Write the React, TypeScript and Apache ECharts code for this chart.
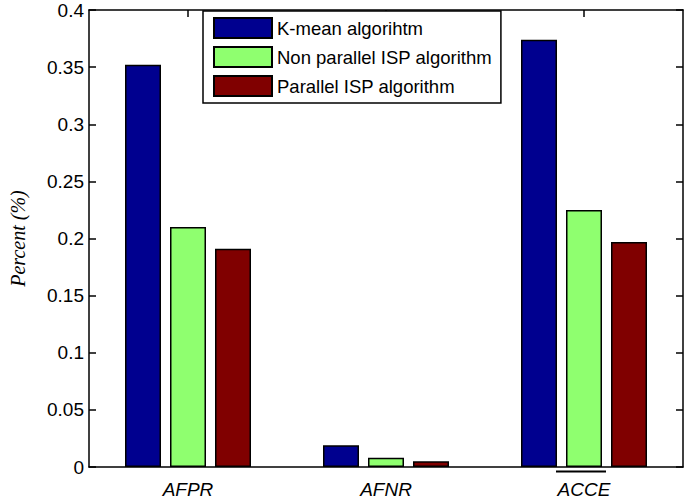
import React, { useEffect, useRef } from "react";
import * as echarts from "echarts";

const categories = ["AFPR", "AFNR", "ACCE"];
const seriesNames = ["K-mean algorihtm", "Non parallel ISP algorithm", "Parallel ISP algorithm"];
const kmean = [0.352, 0.019, 0.374];
const nonParallel = [0.21, 0.008, 0.225];
const parallel = [0.191, 0.005, 0.197];
const colors = ["#00008F", "#8FFF6F", "#800000"];
const yTicks = [0, 0.05, 0.1, 0.15, 0.2, 0.25, 0.3, 0.35, 0.4];

export default function App() {
  const ref = useRef<HTMLDivElement>(null);
  useEffect(() => {
    if (!ref.current) return;
    const chart = echarts.init(ref.current, null, { renderer: "svg" });
    const font = "Liberation Sans, Arial, sans-serif";
    const axisLine = { show: true, onZero: false, lineStyle: { color: "#000", width: 1.5 } };
    const tick = { show: true, inside: true, length: 7, lineStyle: { color: "#000", width: 1.5 } };
    const values = [kmean, nonParallel, parallel];
    chart.setOption({
      animation: false,
      backgroundColor: "#fff",
      grid: { left: 76, top: 10, width: 607, height: 457, containLabel: false },
      legend: {
        orient: "vertical",
        left: 203,
        top: 11,
        padding: [6, 9, 6, 10],
        itemGap: 7,
        itemWidth: 58,
        itemHeight: 20,
        icon: "rect",
        borderColor: "#000",
        borderWidth: 1.5,
        backgroundColor: "#fff",
        data: seriesNames,
        textStyle: { color: "#000", fontFamily: font, fontSize: 18.5 },
      },
      xAxis: [
        {
          type: "category",
          data: categories,
          position: "bottom",
          axisLine,
          axisTick: { ...tick, alignWithLabel: true },
          axisLabel: { color: "#000", fontFamily: font, fontSize: 19, fontStyle: "italic", margin: 13 },
          splitLine: { show: false },
        },
        {
          type: "category",
          data: categories,
          position: "top",
          axisLine,
          axisTick: { ...tick, alignWithLabel: true },
          axisLabel: { show: false },
          splitLine: { show: false },
        },
      ],
      yAxis: [
        {
          type: "value",
          min: yTicks[0],
          max: yTicks[yTicks.length - 1],
          interval: 0.05,
          position: "left",
          name: "Percent (%)",
          nameLocation: "middle",
          nameGap: 61,
          nameRotate: 90,
          nameTextStyle: { color: "#000", fontFamily: "Liberation Serif, Times New Roman, serif", fontStyle: "italic", fontSize: 20 },
          axisLine,
          axisTick: tick,
          axisLabel: { color: "#000", fontFamily: font, fontSize: 19, margin: 5, formatter: (v: number) => String(parseFloat(v.toFixed(2))) },
          splitLine: { show: false },
        },
        {
          type: "value",
          min: yTicks[0],
          max: yTicks[yTicks.length - 1],
          interval: 0.05,
          position: "right",
          axisLine,
          axisTick: tick,
          axisLabel: { show: false },
          splitLine: { show: false },
        },
      ],
      series: seriesNames.map((name, i) => ({
        name,
        type: "bar",
        xAxisIndex: 0,
        yAxisIndex: 0,
        data: values[i],
        barWidth: 36,
        barGap: "25%",
        itemStyle: { color: colors[i], borderColor: "#000", borderWidth: 1.5 },
      })),
      graphic: [
        {
          type: "line",
          shape: { x1: 556, y1: 471.5, x2: 606, y2: 471.5 },
          style: { stroke: "#000", lineWidth: 2 },
        },
      ],
    });
    return () => chart.dispose();
  }, []);
  return <div ref={ref} style={{ position: "absolute", left: 0, top: 0, width: 685, height: 501 }} />;
}
